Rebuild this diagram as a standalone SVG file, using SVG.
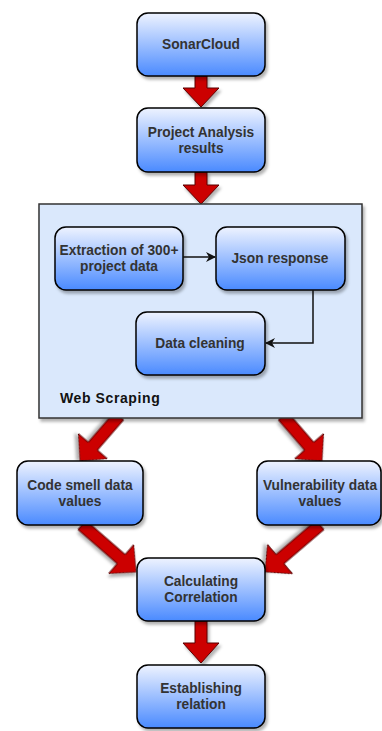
<svg xmlns="http://www.w3.org/2000/svg" width="382" height="731" viewBox="0 0 382 731">
<defs>
<linearGradient id="bg" x1="0" y1="0" x2="0" y2="1">
<stop offset="0" stop-color="#eef3ff"/>
<stop offset="1" stop-color="#4a8aff"/>
</linearGradient>
<filter id="sh" x="-20%" y="-20%" width="140%" height="140%">
<feDropShadow dx="2" dy="3" stdDeviation="1.5" flood-color="#000" flood-opacity="0.3"/>
</filter>
<marker id="ah" viewBox="0 0 10 10" refX="9" refY="5" markerWidth="10" markerHeight="10" markerUnits="userSpaceOnUse" orient="auto">
<path d="M0,0 L10,5 L0,10 L3,5 Z" fill="#111"/>
</marker>
</defs>
<style>
.box{fill:url(#bg);stroke:#000;stroke-width:1.5;filter:url(#sh)}
.t{font-family:"Liberation Sans",Arial,sans-serif;font-weight:bold;font-size:13.75px;fill:#333;text-anchor:middle}
.ba{fill:#cc0000;stroke:#5a0000;stroke-width:1;filter:url(#sh)}
.ln{fill:none;stroke:#111;stroke-width:1.5;marker-end:url(#ah)}
</style>
<rect width="382" height="731" fill="#fff"/>

<g id="block-arrows">
<path class="ba" d="M195,76 H207 V88 H219 L201,107 L183,88 H195 Z"/>
<path class="ba" d="M195,172 H207 V185 H219 L201,204 L183,185 H195 Z"/>
<path class="ba" transform="translate(119,416) rotate(130.9)" d="M0,-6 H40 V-19 L59.5,0 L40,19 V6 H0 Z"/>
<path class="ba" transform="translate(283,416) rotate(49.1)" d="M0,-6 H40 V-19 L59.5,0 L40,19 V6 H0 Z"/>
<path class="ba" transform="translate(82,525) rotate(41)" d="M0,-6 H52 V-19 L71.6,0 L52,19 V6 H0 Z"/>
<path class="ba" transform="translate(320,525) rotate(139.5)" d="M0,-6 H52.7 V-19 L72.3,0 L52.7,19 V6 H0 Z"/>
<path class="ba" d="M195,621 H207 V643 H219 L201,663 L183,643 H195 Z"/>
</g>

<g id="sonarcloud">
<rect class="box" x="137" y="13" width="128" height="63" rx="11"/>
<text class="t" x="201" y="49">SonarCloud</text>
</g>
<g id="project-analysis">
<rect class="box" x="137" y="108" width="128" height="64" rx="11"/>
<text class="t" x="201" y="137">Project Analysis</text>
<text class="t" x="201" y="153">results</text>
</g>

<g id="web-scraping">
<rect x="39" y="204" width="323" height="214" fill="#dae8fc" stroke="#333" stroke-width="1.5" filter="url(#sh)"/>
<text x="60" y="403" style="font-family:'Liberation Sans',Arial,sans-serif;font-weight:bold;font-size:14px;fill:#111;letter-spacing:0.6px">Web Scraping</text>
</g>

<g id="extraction">
<rect class="box" x="55" y="227" width="128" height="63" rx="11"/>
<text class="t" x="119" y="255">Extraction of 300+</text>
<text class="t" x="119" y="271">project data</text>
</g>
<g id="json-response">
<rect class="box" x="216" y="227" width="129" height="63" rx="11"/>
<text class="t" x="280" y="263">Json response</text>
</g>
<g id="data-cleaning">
<rect class="box" x="136" y="312" width="129" height="63" rx="11"/>
<text class="t" x="200" y="348">Data cleaning</text>
</g>

<g id="connectors">
<path class="ln" d="M183,257 H215"/>
<path class="ln" d="M313,290 V343 H266"/>
</g>

<g id="code-smell">
<rect class="box" x="17" y="461" width="126" height="64" rx="11"/>
<text class="t" x="80" y="490">Code smell data</text>
<text class="t" x="80" y="506">values</text>
</g>
<g id="vulnerability">
<rect class="box" x="257" y="461" width="124" height="64" rx="11"/>
<text class="t" x="320" y="490">Vulnerability data</text>
<text class="t" x="320" y="506">values</text>
</g>
<g id="calculating">
<rect class="box" x="137" y="558" width="128" height="63" rx="11"/>
<text class="t" x="201" y="586">Calculating</text>
<text class="t" x="201" y="602">Correlation</text>
</g>
<g id="establishing">
<rect class="box" x="137" y="665" width="128" height="63" rx="11"/>
<text class="t" x="201" y="693">Establishing</text>
<text class="t" x="201" y="709">relation</text>
</g>
</svg>
